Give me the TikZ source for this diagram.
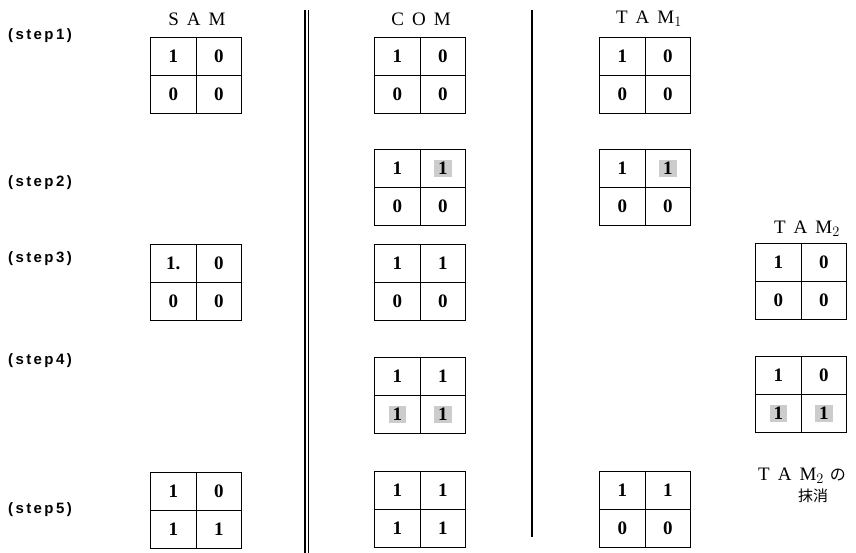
\documentclass[tikz,border=0pt]{standalone}
\usepackage{fontspec}
\setmainfont{Liberation Serif}
\newfontfamily\stepfont[LetterSpace=16]{Liberation Sans}
\newfontfamily\cjkfont{Noto Sans CJK JP}
\newcommand\shd[1]{{\setlength{\fboxsep}{2pt}\colorbox{gray!40}{\hspace{2pt}#1\hspace{2pt}}}}
\newcommand\lsp{\hspace{8pt}}
\newcommand\mygrid[7]{%
  \node[cell,anchor=north west] (#1-a) at (#2,#3) {#4};
  \node[cell,anchor=north west] (#1-b) at (#2+45.5,#3) {#5};
  \node[cell,anchor=north west] (#1-c) at (#2,#3+38) {#6};
  \node[cell,anchor=north west] (#1-d) at (#2+45.5,#3+38) {#7};
}
\begin{document}
\begin{tikzpicture}[x=1pt,y=-1pt,
  cell/.style={draw,line width=1pt,minimum width=45.5pt,minimum height=38pt,inner sep=0pt,
    font=\fontsize{19}{19}\selectfont\bfseries},
  steplabel/.style={anchor=west,inner sep=0pt,font=\stepfont\bfseries\fontsize{15}{15}\selectfont},
  header/.style={inner sep=0pt,font=\fontsize{19}{19}\selectfont},
  divider/.style={line width=1.3pt}]
\useasboundingbox (0,0) rectangle (856,553);
% dividers
\draw[divider] (305,10) -- (305,553);
\draw[divider] (308.5,10) -- (308.5,553);
\draw[divider] (532,10) -- (532,537);
% headers
\node[header] (hsam) at (197,19) {S\lsp A\lsp M};
\node[header] (hcom) at (421,19) {C\lsp O\lsp M};
\node[header] (htam1) at (649,19) {T\lsp A\lsp M$_{1}$};
\node[header] (htam2) at (807,229) {T\lsp A\lsp M$_{2}$};
% step labels
\node[steplabel] (s1) at (8,36) {(step1)};
\node[steplabel] (s2) at (8,183) {(step2)};
\node[steplabel] (s3) at (8,259) {(step3)};
\node[steplabel] (s4) at (8,361) {(step4)};
\node[steplabel] (s5) at (8,510) {(step5)};
% grids
\mygrid{sam1}{150}{37}{1}{0}{0}{0}
\mygrid{com1}{374}{37}{1}{0}{0}{0}
\mygrid{tama1}{599}{37}{1}{0}{0}{0}
\mygrid{com2}{374}{149}{1}{\shd{1}}{0}{0}
\mygrid{tama2}{599}{149}{1}{\shd{1}}{0}{0}
\mygrid{sam3}{150}{244}{1.}{0}{0}{0}
\mygrid{com3}{374}{244}{1}{1}{0}{0}
\mygrid{tamb3}{755}{243}{1}{0}{0}{0}
\mygrid{com4}{374}{357}{1}{1}{\shd{1}}{\shd{1}}
\mygrid{tamb4}{755}{356}{1}{0}{\shd{1}}{\shd{1}}
\mygrid{sam5}{150}{472}{1}{0}{1}{1}
\mygrid{com5}{374}{471}{1}{1}{1}{1}
\mygrid{tama5}{599}{471}{1}{1}{0}{0}
% deletion note
\node[header,anchor=west] (del1) at (758,476) {T\lsp A\lsp M$_{2}$\hspace{6pt}{\cjkfont\fontsize{16}{16}\selectfont の}};
\node[inner sep=0pt,font=\cjkfont\fontsize{15}{15}\selectfont] (del2) at (813,496) {抹消};
\end{tikzpicture}
\end{document}
